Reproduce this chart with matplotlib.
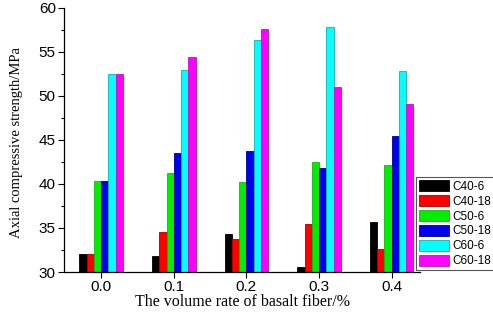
import numpy as np
import matplotlib.pyplot as plt

# volume rate of basalt fiber (%)
rates = [0.0, 0.1, 0.2, 0.3, 0.4]
tick_labels = ['0.0', '0.1', '0.2', '0.3', '0.4']

# axial compressive strength (MPa) per mix
series_names = ['C40-6', 'C40-18', 'C50-6', 'C50-18', 'C60-6', 'C60-18']
c40_6 = [32.0, 31.8, 34.3, 30.6, 35.7]
c40_18 = [32.0, 34.6, 33.8, 35.4, 32.6]
c50_6 = [40.3, 41.2, 40.2, 42.5, 42.1]
c50_18 = [40.3, 43.5, 43.7, 41.8, 45.4]
c60_6 = [52.5, 53.0, 56.4, 57.8, 52.8]
c60_18 = [52.5, 54.4, 57.6, 51.0, 49.1]

face = ['#000000', '#ff0000', '#00ee00', '#0000ee', '#00ffff', '#ff00ff']
edge = ['#000000', '#aa0000', '#22aa22', '#000088', '#22aaaa', '#aa22aa']

fig = plt.figure(figsize=(4.93, 3.15), dpi=100)
ax = fig.add_axes([0.130, 0.1365, 0.722, 0.8385])

x = np.array(rates)
w = 0.01
data = [c40_6, c40_18, c50_6, c50_18, c60_6, c60_18]
for i, vals in enumerate(data):
    ax.bar(x + (i - 2.5) * w, np.array(vals) - 30, bottom=30, width=w,
           color=face[i], edgecolor=edge[i], linewidth=0.6, label=series_names[i])

ax.set_xlim(-0.051, 0.439)
ax.set_ylim(30, 60)
ax.set_xticks(rates)
ax.set_xticklabels(tick_labels)
ax.set_yticks([30, 35, 40, 45, 50, 55, 60])
ax.set_yticks(np.arange(30, 60.1, 2.5), minor=True)

ax.spines['top'].set_visible(False)
ax.spines['right'].set_visible(False)
for s in ['left', 'bottom']:
    ax.spines[s].set_linewidth(0.9)
ax.tick_params(direction='out', length=4, width=0.8, labelsize=11, pad=2)
ax.tick_params(which='minor', direction='out', length=2, width=0.8)
for t in ax.get_xticklabels() + ax.get_yticklabels():
    t.set_fontfamily('Liberation Sans')

ax.set_xlabel('The volume rate of basalt fiber/%', family='Liberation Serif',
              fontsize=11.5, labelpad=0)
ax.set_ylabel('Axial compressive strength/MPa', family='Liberation Serif',
              fontsize=10.5, labelpad=3)
ax.yaxis.set_label_coords(-0.115, 0.49)

leg = fig.legend(loc='lower left', bbox_to_anchor=(0.843, 0.142),
                 prop={'family': 'Liberation Sans', 'size': 8.5},
                 fancybox=False, framealpha=1, edgecolor='#555555',
                 handlelength=2.6, handleheight=1.0, handletextpad=0.3,
                 labelspacing=0.22, borderpad=0.25, borderaxespad=0)
leg.get_frame().set_linewidth(0.8)

fig.savefig('out.png', dpi=100)
